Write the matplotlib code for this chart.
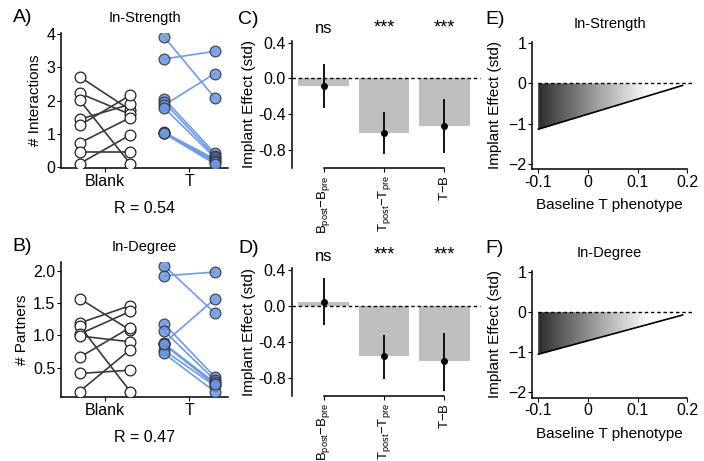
import numpy as np
import matplotlib.pyplot as plt
from matplotlib.patches import Polygon
from matplotlib.colors import LinearSegmentedColormap

plt.rcParams['font.family'] = ['Liberation Sans', 'DejaVu Sans']
plt.rcParams['mathtext.fontset'] = 'custom'
plt.rcParams['mathtext.rm'] = 'Liberation Sans'
plt.rcParams['axes.linewidth'] = 1.1

# A) in-strength, paired pre/post per animal
str_blank_pre = [2.72, 2.22, 2.02, 1.44, 1.26, 0.73, 0.45, 0.11]
str_blank_post = [1.72, 1.59, 0.11, 1.89, 2.16, 1.49, 0.45, 0.97]
str_t_pre = [3.92, 3.25, 2.06, 1.96, 1.86, 1.79, 1.05, 1.04, 1.03, 1.02]
str_t_post = [2.09, 3.48, 0.43, 0.35, 2.81, 0.30, 0.25, 0.20, 0.15, 0.11]

# B) in-degree
deg_blank_pre = [1.57, 1.19, 1.15, 1.02, 0.99, 0.66, 0.41, 0.13]
deg_blank_post = [1.08, 1.46, 0.13, 1.37, 0.90, 1.12, 0.46, 0.78]
deg_t_pre = [2.08, 1.92, 1.18, 1.07, 0.88, 0.87, 0.86, 0.77, 0.72, 0.87]
deg_t_post = [1.35, 1.98, 0.36, 0.31, 1.56, 0.27, 0.24, 0.22, 0.13, 0.25]

# C/D) implant effects
contrasts = [r'B$_{\mathrm{post}}$$-$B$_{\mathrm{pre}}$',
             r'T$_{\mathrm{post}}$$-$T$_{\mathrm{pre}}$',
             r'T$-$B']
signif = ['ns', '***', '***']
str_effect = [-0.085, -0.605, -0.525]
str_lo = [-0.33, -0.84, -0.83]
str_hi = [0.16, -0.375, -0.23]
deg_effect = [0.05, -0.56, -0.615]
deg_lo = [-0.21, -0.81, -0.94]
deg_hi = [0.31, -0.32, -0.305]

# E/F) regression of effect on baseline T
baseline_t = [-0.1, 0.19]
str_fit = [-1.14, -0.05]
deg_fit = [-1.05, -0.07]

blue = '#6b97e4'
blue_line = '#6f9be8'
grey_bar = '#bfbfbf'

fig = plt.figure(figsize=(7.04, 4.61), dpi=100)


def paired_panel(rect, pre_b, post_b, pre_t, post_t, ylabel, title, yticks, ylim, rtext):
    ax = fig.add_axes(rect)
    for a, b in zip(pre_b, post_b):
        ax.plot([0.7, 1.3], [a, b], color='#3a3a3a', lw=1.2, zorder=1)
    for a, b in zip(pre_t, post_t):
        ax.plot([1.7, 2.3], [a, b], color=blue_line, lw=1.2, zorder=1)
    ax.scatter([0.7] * len(pre_b), pre_b, s=60, facecolor='white', edgecolor='#222222', lw=0.9, zorder=3)
    ax.scatter([1.3] * len(post_b), post_b, s=60, facecolor='white', edgecolor='#222222', lw=0.9, zorder=3)
    ax.scatter([1.7] * len(pre_t), pre_t, s=60, facecolor=blue, alpha=0.85, edgecolor='#333333', lw=0.9, zorder=3)
    ax.scatter([2.3] * len(post_t), post_t, s=60, facecolor=blue, alpha=0.85, edgecolor='#333333', lw=0.9, zorder=3)
    ax.set_xlim(0.48, 2.46)
    ax.set_ylim(*ylim)
    ax.set_yticks(yticks)
    ax.set_xticks([1, 2])
    ax.set_xticklabels(['Blank', 'T'])
    ax.spines['top'].set_visible(False)
    ax.spines['right'].set_visible(False)
    ax.tick_params(labelsize=11.5, length=3, pad=1)
    ax.set_ylabel(ylabel, fontsize=11, labelpad=3)
    ax.set_title(title, fontsize=10.5, pad=8)
    ax.text(0.5, -0.3, rtext, transform=ax.transAxes, ha='center', va='center', fontsize=11.5)
    return ax


def effect_panel(rect, effect, lo, hi):
    ax = fig.add_axes(rect)
    x = np.arange(len(effect))
    ax.bar(x, effect, width=0.84, color=grey_bar, zorder=1)
    ax.vlines(x, lo, hi, color='black', lw=1.3, zorder=2)
    ax.plot(x, effect, 'o', color='black', ms=4, zorder=3)
    ax.axhline(0, color='black', lw=1.0, ls=(0, (2.5, 2)), zorder=4, clip_on=False)
    ax.set_xlim(-0.53, 2.59)
    ax.set_ylim(-1.0, 0.42)
    ax.set_yticks([0.4, 0.0, -0.4, -0.8])
    ax.set_yticklabels(['0.4', '0.0', '-0.4', '-0.8'])
    ax.set_xticks(x)
    ax.set_xticklabels(contrasts, rotation=90, fontsize=9.5)
    ax.spines['top'].set_visible(False)
    ax.spines['right'].set_visible(False)
    ax.spines['bottom'].set_bounds(0, 2)
    ax.tick_params(axis='y', labelsize=11.5, length=3, pad=1)
    ax.tick_params(axis='x', length=3, pad=2)
    ax.set_ylabel('Implant Effect (std)', fontsize=11, labelpad=2)
    for xi, s in zip(x, signif):
        ax.text(xi, 0.47, s, ha='center', va='bottom', fontsize=12 if s == 'ns' else 13)
    return ax


def slope_panel(rect, fit, title):
    ax = fig.add_axes(rect)
    x0, x1 = baseline_t
    y0, y1 = fit
    cmap = LinearSegmentedColormap.from_list('shade', ['#2e2e2e', '#9a9a9a', '#ffffff'])
    grad = np.linspace(0, 1, 256).reshape(1, -1)
    im = ax.imshow(np.clip(grad * 1.3, 0, 1), cmap=cmap, aspect='auto',
                   extent=[x0, x1, y0, 0], vmin=0, vmax=1, zorder=1)
    tri = Polygon([[x0, 0], [x0, y0], [x1, y1], [x1, 0]], closed=True,
                  facecolor='none', edgecolor='none', transform=ax.transData)
    ax.add_patch(tri)
    im.set_clip_path(tri)
    ax.plot(baseline_t, fit, color='black', lw=1.2, zorder=3)
    ax.plot([x0, x0], [y0, 0], color='#555555', lw=0.6, zorder=2)
    ax.plot([x0, 0.21], [0, 0], color='black', lw=1.0, ls=(0, (2.5, 2)), zorder=4, clip_on=False)
    ax.set_xlim(-0.1135, 0.2)
    ax.set_ylim(-2.14, 1.04)
    ax.set_yticks([1, 0, -1, -2])
    ax.set_xticks([-0.1, 0, 0.1, 0.2])
    ax.set_xticklabels(['-0.1', '0', '0.1', '0.2'])
    ax.spines['top'].set_visible(False)
    ax.spines['right'].set_visible(False)
    ax.tick_params(labelsize=11.5, length=3, pad=1)
    ax.set_ylabel('Implant Effect (std)', fontsize=11, labelpad=4)
    ax.set_xlabel('Baseline T phenotype', fontsize=11, labelpad=6)
    ax.set_title(title, fontsize=10.5, pad=10)
    return ax


paired_panel([0.0866, 0.6356, 0.2374, 0.2928], str_blank_pre, str_blank_post,
             str_t_pre, str_t_post, '# Interactions', 'In-Strength',
             [0, 1, 2, 3, 4], (-0.02, 4.03), 'R = 0.54')
axb = paired_panel([0.0866, 0.1388, 0.2374, 0.2935], deg_blank_pre, deg_blank_post,
                   deg_t_pre, deg_t_post, '# Partners', 'In-Degree',
                   [0.5, 1.0, 1.5, 2.0], (0.045, 2.14), 'R = 0.47')
axb.set_yticklabels(['0.5', '1.0', '1.5', '2.0'])

effect_panel([0.4143, 0.635, 0.2677, 0.2767], str_effect, str_lo, str_hi)
effect_panel([0.4143, 0.141, 0.2677, 0.277], deg_effect, deg_lo, deg_hi)

slope_panel([0.7553, 0.6328, 0.2212, 0.2767], str_fit, 'In-Strength')
slope_panel([0.7553, 0.1373, 0.2212, 0.2755], deg_fit, 'In-Degree')

for lbl, x, y in [('A)', 0.018, 0.962), ('B)', 0.018, 0.465), ('C)', 0.338, 0.957),
                  ('D)', 0.338, 0.46), ('E)', 0.69, 0.957), ('F)', 0.69, 0.46)]:
    fig.text(x, y, lbl, fontsize=14, ha='left', va='center')

fig.savefig('out.png', dpi=100)
